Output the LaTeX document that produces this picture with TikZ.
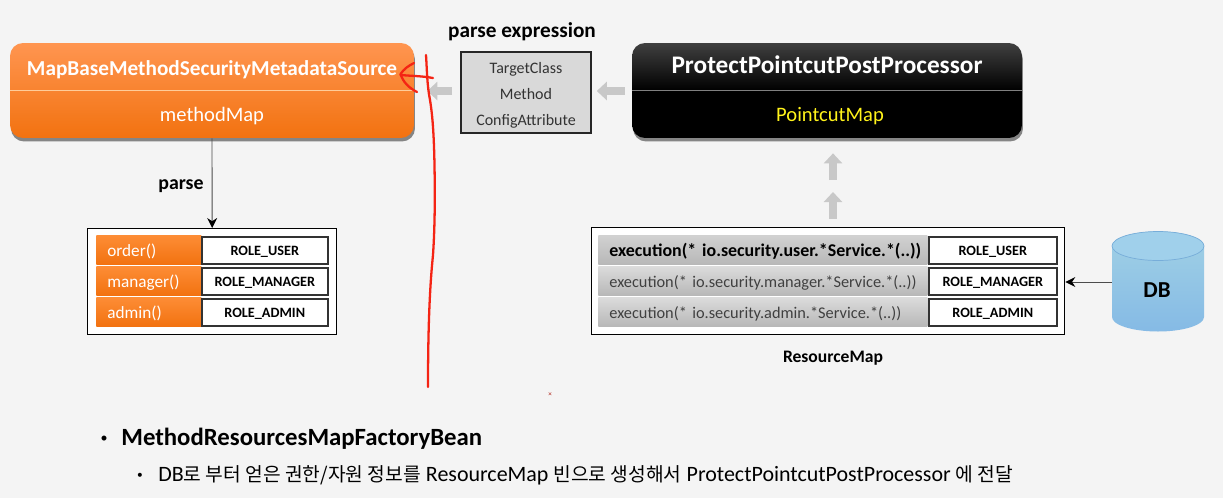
\documentclass[tikz,border=0pt]{standalone}
\usepackage{fontspec}
\setmainfont{Carlito}
\newfontfamily\krfont{Noto Sans CJK KR}
\usetikzlibrary{arrows.meta, shadows}
\definecolor{pagegray}{HTML}{F4F4F4}
\definecolor{blockgray}{HTML}{C8C8C8}
\definecolor{penred}{HTML}{F42414}
\definecolor{orangetop}{HTML}{FF9550}
\definecolor{orangemid}{HTML}{FD801F}
\definecolor{orangelow}{HTML}{F27210}
\tikzstyle{metabox} = [rounded corners=0.26cm, minimum width=7.8cm, minimum height=1.9cm, inner sep=0, drop shadow={shadow xshift=0.02cm, shadow yshift=-0.07cm, opacity=0.45, fill=black}]
\tikzstyle{orangebox} = [metabox, top color=orangetop, middle color=orangemid, bottom color=orangelow]
\tikzstyle{blackbox} = [metabox, top color=black!75, bottom color=black, middle color=black]
\tikzstyle{maptable} = [draw=black, line width=0.8pt, fill=white, inner sep=0, anchor=north west]
\tikzstyle{orangerow} = [anchor=north west, minimum width=2.1cm, minimum height=0.58cm, inner sep=0, inner xsep=0.22cm, text width=1.66cm, text height=0.33cm, text depth=0.08cm, align=left, text=white, font=\fontsize{9.8}{12}\selectfont, top color=orangemid!90!white, bottom color=orangelow]
\tikzstyle{grayrow} = [anchor=north west, minimum width=6.58cm, minimum height=0.58cm, inner sep=0, inner xsep=0.22cm, text width=6.14cm, text height=0.33cm, text depth=0.08cm, align=left, text=black!75, font=\fontsize{9.3}{12}\selectfont, top color=black!14, bottom color=black!28]
\tikzstyle{rolebox} = [draw=black!80, line width=0.9pt, fill=white, anchor=north west, minimum height=0.54cm, inner sep=0, text height=0.3cm, text depth=0.08cm, font=\fontsize{8.1}{10}\selectfont\bfseries]
\tikzstyle{blockarrow} = [line width=0.17cm, blockgray, -{Triangle[length=0.2cm, width=0.36cm]}]
\tikzstyle{thinarrow} = [draw=black!70, line width=0.5pt, -{Stealth[length=0.2cm, width=0.2cm, black]}]
\tikzstyle{penline} = [penred, line width=1.3pt, line cap=round, line join=round]
\begin{document}
\begin{tikzpicture}[x=0.02cm, y=-0.02cm]
	\useasboundingbox (0,0) rectangle (1223,498);
	\fill[pagegray] (0,0) rectangle (1223,498);
	%MapBaseMethodSecurityMetadataSource
	\node[orangebox, minimum width=8.08cm] (sourceBox) at (212,90.5) {};
	\draw[white!60!orange, line width=0.6pt] (sourceBox.west) -- (sourceBox.east);
	\node[text=white, font=\fontsize{12.1}{15}\selectfont\bfseries] (sourceTitle) at (212,69.5) {MapBaseMethodSecurityMetadataSource};
	\node[text=white, font=\fontsize{11.7}{15}\selectfont] (methodMap) at (212,116) {methodMap};
	%Parse Expression
	\node[font=\fontsize{12.1}{14}\selectfont\bfseries] (exprTitle) at (522,32) {parse expression};
	\node[draw=black!85, line width=0.9pt, fill=black!15, minimum width=2.6cm, minimum height=1.62cm, inner sep=0] (exprBox) at (526,92.5) {};
	\node[font=\fontsize{9.1}{11}\selectfont, text=black!80] (targetClass) at (526,69.5) {TargetClass};
	\node[font=\fontsize{9.1}{11}\selectfont, text=black!80] (methodItem) at (526,94.5) {Method};
	\node[font=\fontsize{9.1}{11}\selectfont, text=black!80] (configAttr) at (526,121) {ConfigAttribute};
	%ProtectPointcutPostProcessor
	\node[blackbox] (pointcutBox) at (827,90.5) {};
	\draw[black!50, line width=0.9pt] (pointcutBox.west) -- (pointcutBox.east);
	\node[text=white, font=\fontsize{14.4}{16}\selectfont\bfseries] (pointcutTitle) at (827,65) {ProtectPointcutPostProcessor};
	\node[text=yellow!90!white, font=\fontsize{11.7}{15}\selectfont] (pointcutMap) at (830,116) {PointcutMap};
	%Method Table
	\node[font=\fontsize{11.3}{13}\selectfont\bfseries] (parseLabel) at (181,186) {parse};
	\node[maptable, minimum width=4.98cm, minimum height=2.12cm] (methodTable) at (87,228) {};
	\node[orangerow] (orderRow) at (96,235) {order()};
	\node[rolebox, minimum width=2.52cm] (orderRole) at (201,236) {ROLE\_USER};
	\node[orangerow] (managerRow) at (96,266) {manager()};
	\node[rolebox, minimum width=2.52cm] (managerRole) at (201,267) {ROLE\_MANAGER};
	\node[orangerow] (adminRow) at (96,297) {admin()};
	\node[rolebox, minimum width=2.52cm] (adminRole) at (201,298) {ROLE\_ADMIN};
	%Resource Table
	\node[maptable, minimum width=9.46cm, minimum height=2.14cm] (resourceMap) at (591,227) {};
	\node[grayrow, text=black, top color=black!18, bottom color=black!28, font=\fontsize{10.2}{12}\selectfont\bfseries] (userRow) at (598,235) {\mbox{execution(* io.security.user.*Service.*(..))}};
	\node[rolebox, minimum width=2.56cm] (userRole) at (928,236) {ROLE\_USER};
	\node[grayrow] (managerExec) at (598,266) {\mbox{execution(* io.security.manager.*Service.*(..))}};
	\node[rolebox, minimum width=2.56cm] (managerExecRole) at (928,267) {ROLE\_MANAGER};
	\node[grayrow] (adminExec) at (598,297) {\mbox{execution(* io.security.admin.*Service.*(..))}};
	\node[rolebox, minimum width=2.56cm] (adminExecRole) at (928,298) {ROLE\_ADMIN};
	\node[font=\fontsize{10}{12}\selectfont\bfseries] (resourceLabel) at (833,358) {ResourceMap};
	%DB
	\node[minimum width=1.84cm, minimum height=1.98cm, inner sep=0] (dbNode) at (1158,281.5) {};
	\shade[top color=blue!30!cyan!30!white!90!black, bottom color=blue!45!cyan!42!white!90!black] (1112,246) -- (1112,317) arc[start angle=180, end angle=360, x radius=0.92cm, y radius=0.29cm] -- (1204,246) arc[start angle=0, end angle=180, x radius=0.92cm, y radius=0.29cm] -- cycle;
	\draw[blue!45!cyan!45!white!85!black, line width=0.4pt, fill=blue!35!cyan!32!white!92!black] (1158,246) ellipse[x radius=0.92cm, y radius=0.29cm];
	\node[font=\fontsize{13}{15}\selectfont\bfseries] (dbLabel) at (1157,290) {DB};
	%Connectors
	\draw[thinarrow] (sourceBox.south) -- (methodTable.north);
	\draw[thinarrow] (dbNode.west |- 0,282) -- (resourceMap.east |- 0,282);
	\draw[blockarrow, shorten <=0.16cm, shorten >=0.26cm] (exprBox.west |- 0,91) -- (sourceBox.east |- 0,91);
	\draw[blockarrow, shorten <=0.14cm, shorten >=0.1cm] (pointcutBox.west |- 0,91) -- (exprBox.east |- 0,91);
	\coordinate (arrowMid) at (833,186);
	\draw[blockarrow, shorten <=0.16cm, shorten >=0.12cm] (arrowMid |- resourceMap.north) -- (arrowMid);
	\draw[blockarrow, shorten <=0.12cm, shorten >=0.3cm] (arrowMid) -- (arrowMid |- pointcutBox.south);
	%Red Pen
	\draw[penline] (426,55) .. controls (427,70) and (427,85) .. (430,100) .. controls (433,118) and (434,140) .. (434.5,165) .. controls (435,195) and (435,225) .. (433,255) .. controls (431,275) and (428,310) .. (428,387);
	\draw[penline] (414,63) .. controls (408,66) and (404,69) .. (400.5,74) .. controls (403,82) and (409,88) .. (417,92);
	\draw[penline] (400.5,75) .. controls (412,76) and (422,76) .. (433,78);
	\node[penred!70!black, font=\fontsize{4}{4}\selectfont] (strayMark) at (550,395) {×};
	%Notes
	\node[font=\fontsize{8}{10}\selectfont] (firstDot) at (104,439) {•};
	\node[anchor=west, inner sep=0, font=\fontsize{14.1}{16}\selectfont\bfseries] (beanName) at (121,439) {MethodResourcesMapFactoryBean};
	\node[font=\fontsize{6.5}{8}\selectfont] (secondDot) at (140,476) {•};
	\node[anchor=west, inner sep=0, font=\fontsize{12.5}{15}\selectfont] (beanNote) at (158,475) {DB{\krfont\fontsize{10.95}{15}\selectfont 로 부터 얻은 권한/자원 정보를} ResourceMap {\krfont\fontsize{10.95}{15}\selectfont 빈으로 생성해서} ProtectPointcutPostProcessor {\krfont\fontsize{10.95}{15}\selectfont 에 전달}};
\end{tikzpicture}
\end{document}
